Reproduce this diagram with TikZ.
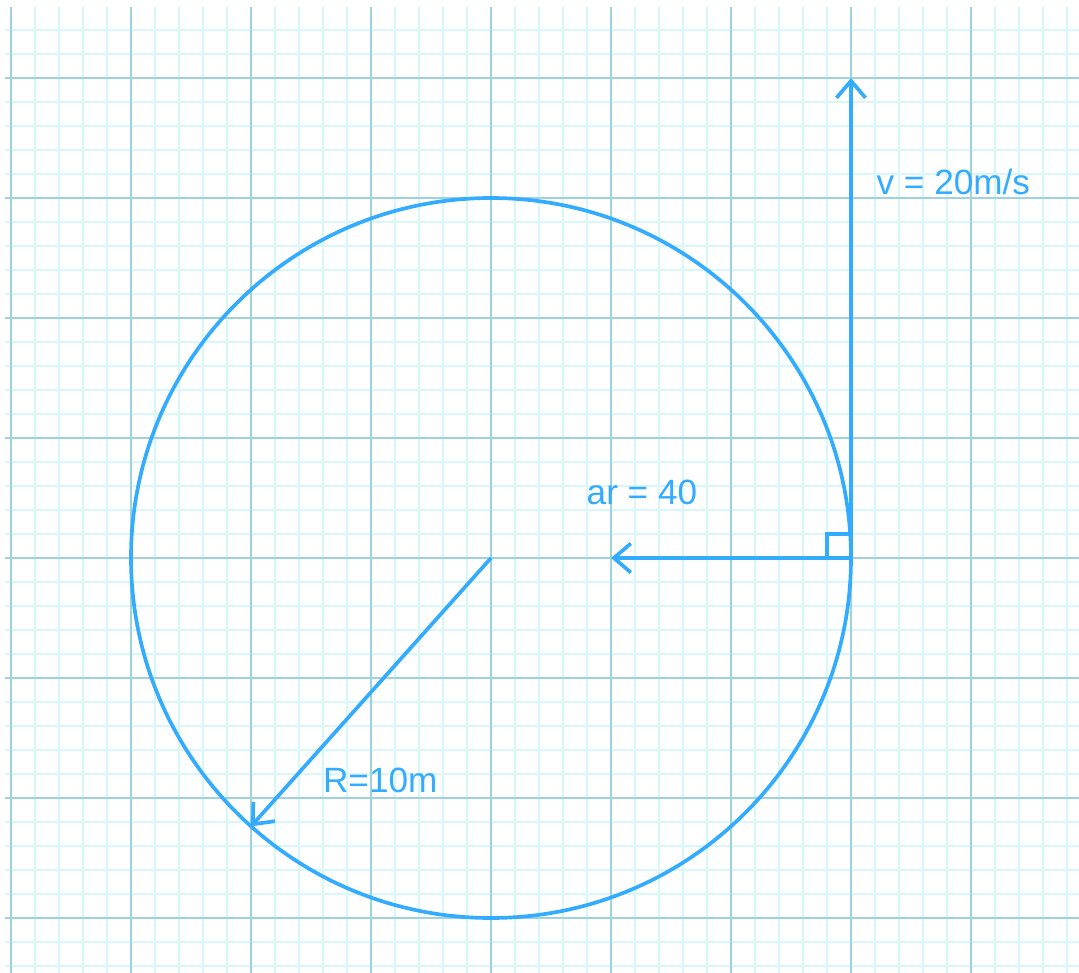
\documentclass[tikz,border=0pt]{standalone}
\usepackage{fontspec}
\setmainfont{Liberation Sans}
\usetikzlibrary{positioning,arrows.meta}
\definecolor{ink}{RGB}{51,172,255}
\definecolor{gridminor}{RGB}{216,247,250}
\definecolor{gridmajor}{RGB}{158,210,220}

\begin{document}
\begin{tikzpicture}[x=1.2cm,y=1.2cm,>={Straight Barb[length=1.7mm,width=2.9mm]},
minor/.style={draw=gridminor,line width=0.8pt},
major/.style={draw=gridmajor,line width=0.5pt},
vec/.style={draw=ink,line width=1.05pt},
lbl/.style={text=ink,font=\fontsize{10}{12}\selectfont,inner sep=0pt,anchor=base west}]
\useasboundingbox (-4.0917,-3.4583) rectangle (4.9,4.65);
% graph paper
\draw[minor] (-4.05,-3.4583) grid[step=0.2] (4.9,4.59);
\draw[major] (-4.05,-3.4583) grid[step=1] (4.9,4.59);
% points
\coordinate (O) at (0,0);
\coordinate (P) at (3,0);
\coordinate (vtip) at (3,4);
\coordinate (atip) at (1,0);
\coordinate (rtip) at (-2,-2.236);
% circle and vectors
\draw[vec] (O) circle[radius=3];
\draw[vec,->] (P) -- (vtip);
\draw[vec,->] (P) -- (atip);
\draw[vec,->] (O) -- (rtip);
\draw[vec] (2.8,0) |- (3,0.2);
% labels
\node[lbl] (vlab) at (3.208,3.033) {v = 20m/s};
\node[lbl] (alab) at (0.792,0.442) {ar = 40};
\node[lbl] (rlab) at (-1.405,-1.958) {R=10m};
\end{tikzpicture}
\end{document}
